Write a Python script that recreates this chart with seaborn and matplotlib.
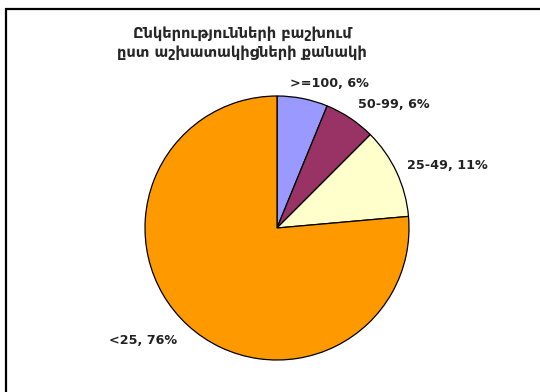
import matplotlib
matplotlib.use("Agg")
import matplotlib.pyplot as plt
import matplotlib.patches as mpatches
import seaborn as sns

categories = [">=100", "50-99", "25-49", "<25"]
shares = [6.2, 6.3, 11.1, 76.4]
colors = ["#9999FF", "#993366", "#FFFFCC", "#FF9900"]
title = "Ընկերությունների բաշխում\nըստ աշխատակիցների քանակի"

sns.set_style("white")
plt.rcParams["font.family"] = ["DejaVu Sans"]

fig = plt.figure(figsize=(5.4, 3.92), dpi=100)
fig.patch.set_facecolor("white")
ax = fig.add_axes([145/540, 1-360/392, 264/540, 264/392])
wedges, _ = ax.pie(shares, colors=colors, startangle=90, counterclock=False,
                   radius=1, wedgeprops=dict(edgecolor="black", linewidth=0.9))
ax.set_xlim(-1, 1)
ax.set_ylim(-1, 1)
ax.set_aspect("equal")
ax.axis("off")

label_pos = [(0.394, 1.091), (0.886, 0.932), (1.288, 0.470), (-1.011, -0.856)]
for cat, val, (x, y) in zip(categories, shares, label_pos):
    ax.text(x, y, f"{cat}, {round(val)}%", ha="center", va="center",
            fontsize=9.2, fontweight="bold", color="#222222", clip_on=False)

fig.text(242/540, 1-43/392, title, ha="center", va="center", fontsize=10.5,
         fontweight="bold", linespacing=1.4)

frame = mpatches.Rectangle((6/540, -0.1), 1.2, 1.1 - 9/392, transform=fig.transFigure,
                           fill=False, edgecolor="black", linewidth=1.6)
fig.patches.append(frame)

fig.savefig("out.png", dpi=100, facecolor="white")
